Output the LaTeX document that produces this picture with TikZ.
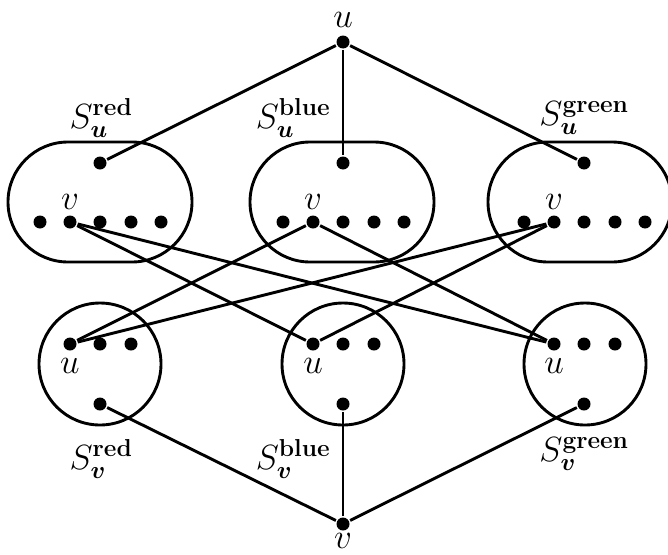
\documentclass[tikz,border=0pt]{standalone}
\usepackage{fix-cm}
\usepackage{amsmath}
\usetikzlibrary{shapes.misc}
\begin{document}
\begin{tikzpicture}[x=1pt,y=-1pt,
  line width=2.9pt,
  dot/.style={circle,fill=black,draw=none,minimum size=13pt,inner sep=0pt},
  setbox/.style={draw,rounded rectangle,minimum width=184pt,minimum height=120pt,inner sep=0pt},
  setcirc/.style={draw,circle,minimum size=122pt,inner sep=0pt},
  lab/.style={inner sep=0pt,font=\fontsize{35}{40}\selectfont}]
\useasboundingbox (0,0) rectangle (668,554);
% set shapes
\node[setbox] (SUr) at (100,202) {};
\node[setbox] (SUb) at (342,202) {};
\node[setbox] (SUg) at (580,202) {};
\node[setcirc] (SVr) at (100,364) {};
\node[setcirc] (SVb) at (343,364) {};
\node[setcirc] (SVg) at (585,364) {};
% top and bottom vertices
\node[dot] (u) at (343,42) {};
\node[dot] (v) at (343,524) {};
\node[lab] (ul) at (343,20) {$u$};
\node[lab] (vl) at (343,541) {$v$};
% top set dots
\foreach \n/\x in {r/0,b/243,g/484}{
  \node[dot] (t\n) at (100+\x,163) {};
  \node[dot] (a\n1) at (40+\x,222) {};
  \node[dot] (a\n2) at (70+\x,222) {};
  \node[dot] (a\n3) at (100+\x,222) {};
  \node[dot] (a\n4) at (131+\x,222) {};
  \node[dot] (a\n5) at (161+\x,222) {};
  \node[lab] (vv\n) at (70+\x,202) {$v$};
}
% bottom set dots
\foreach \n/\x in {r/0,b/243,g/484}{
  \node[dot] (b\n1) at (70+\x,344) {};
  \node[dot] (b\n2) at (100+\x,344) {};
  \node[dot] (b\n3) at (131+\x,344) {};
  \node[dot] (l\n) at (100+\x,404) {};
  \node[lab] (uu\n) at (70+\x,366) {$u$};
}
% set labels
\node[lab] (LUr) at (101,118) {$S_{\boldsymbol{u}}^{\mathbf{red}}$};
\node[lab] (LUb) at (293,118) {$S_{\boldsymbol{u}}^{\mathbf{blue}}$};
\node[lab] (LUg) at (584,118) {$S_{\boldsymbol{u}}^{\mathbf{green}}$};
\node[lab] (LVr) at (101,459) {$S_{\boldsymbol{v}}^{\mathbf{red}}$};
\node[lab] (LVb) at (293,459) {$S_{\boldsymbol{v}}^{\mathbf{blue}}$};
\node[lab] (LVg) at (584,454) {$S_{\boldsymbol{v}}^{\mathbf{green}}$};
% edges
\draw (u) -- (tr);
\draw (u) -- (tb);
\draw (u) -- (tg);
\draw (v) -- (lr);
\draw (v) -- (lb);
\draw (v) -- (lg);
\draw (ar2) -- (bb1);
\draw (ar2) -- (bg1);
\draw (ab2) -- (br1);
\draw (ab2) -- (bg1);
\draw (ag2) -- (br1);
\draw (ag2) -- (bb1);
\end{tikzpicture}
\end{document}
